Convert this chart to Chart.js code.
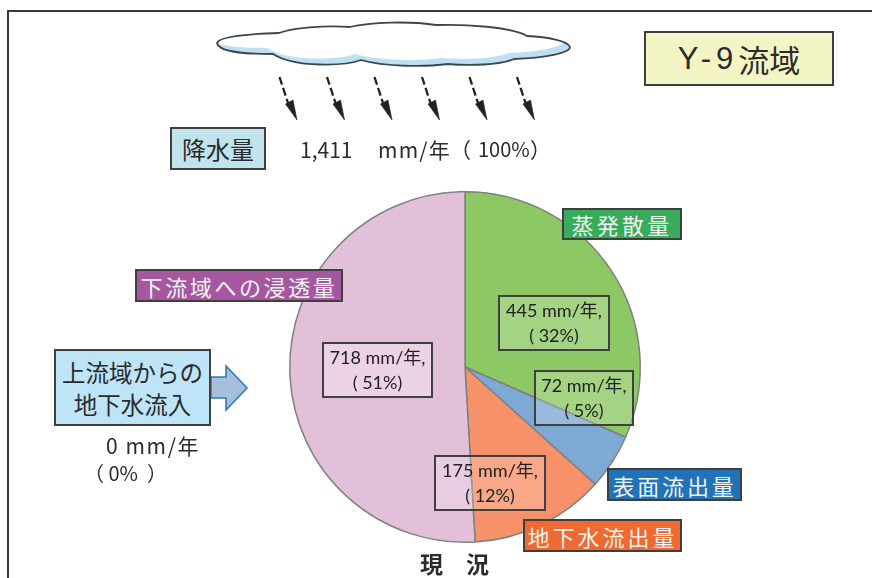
<!DOCTYPE html>
<html lang="ja">
<head>
<meta charset="utf-8">
<script src="https://cdn.jsdelivr.net/npm/chart.js@4"></script>
<style>
  html, body { margin: 0; padding: 0; background: #fff; }
  #stage { position: relative; width: 872px; height: 578px; overflow: hidden;
    font-family: "Noto Sans CJK JP", "Noto Sans", sans-serif; color: #2b2b2b; }
  #stage canvas, #stage svg { position: absolute; left: 0; top: 0; }
  #frame { position: absolute; left: 7px; top: 10px; width: 880px; height: 600px;
    border: 2px solid #3a3a3a; box-sizing: border-box; }
  .box { position: absolute; box-sizing: border-box; border: 2px solid #3f3f3f;
    display: flex; align-items: center; justify-content: center; text-align: center; white-space: nowrap; }
  .tag { color: #f4f4f4; font-size: 22px; letter-spacing: 3.2px; line-height: 1; }
  .val { font-family: Lato, "Noto Sans CJK JP", sans-serif; font-size: 18px; line-height: 25px; color: #222; }
  .txt { position: absolute; white-space: pre; line-height: 1; }
</style>
</head>
<body>
<div id="stage">
  <canvas id="pie" width="872" height="578"></canvas>
  <div id="frame"></div>
  <svg id="deco" width="872" height="578" viewBox="0 0 872 578"></svg>
  <div id="labels"></div>
</div>
<script>
// === DATA ===
const catNames = ['蒸発散量', '表面流出量', '地下水流出量', '下流域への浸透量'];
const valuesMm = [445, 72, 175, 718];
const percents = [32, 5, 12, 51];
const sliceColors = ['#8cc864', '#7fa9d5', '#f79169', '#e3c0da'];
const tagColors = ['#38ac5a', '#2272b8', '#ee6a30', '#a5589f'];

const rainMm = '1,411';
const rainPct = 100;
const inflowMm = 0;
const inflowPct = 0;

// === PIE ===
new Chart(document.getElementById('pie'), {
  type: 'pie',
  data: {
    labels: catNames,
    datasets: [{
      data: valuesMm,
      backgroundColor: sliceColors,
      borderColor: '#808080',
      borderWidth: 1.5
    }]
  },
  options: {
    responsive: false,
    animation: false,
    layout: { padding: { left: 289, right: 231, top: 191, bottom: 35 } },
    plugins: { legend: { display: false }, tooltip: { enabled: false } }
  }
});

// === CLOUD AND RAIN ===
const cloudPath = 'M217 43 C219 37 245 34 279 33 C292 28 325 25 350 27 C370 22 410 21 436 25 ' +
  'C465 24 512 27 527 36 C548 37 568 41 570 47 C570 53 545 58 514 59 C500 65 470 66 448 64 ' +
  'C425 67 385 67 361 60 C345 66 295 68 273 54 C250 54 219 53 217 43 Z';
let deco = `<defs><clipPath id="cloudClip"><path d="${cloudPath}"/></clipPath></defs>
  <path d="${cloudPath}" fill="#bfe0f3"/>
  <g clip-path="url(#cloudClip)"><path d="${cloudPath}" fill="#fff" transform="translate(-6 -6)"/></g>
  <path d="${cloudPath}" fill="none" stroke="#3c4650" stroke-width="1.8"/>`;
for (let i = 0; i < 6; i++) {
  const dx = 47.5 * i;
  deco += `<g transform="translate(${dx} 0)">
    <line x1="279.5" y1="77" x2="288" y2="103" stroke="#222" stroke-width="2.3" stroke-dasharray="8 3.5"/>
    <path d="M285.5 104 L297 120 L293 100 Z" fill="#222" stroke="#222" stroke-width="0.6"/></g>`;
}
// inflow arrow
deco += `<path d="M211 377 L226 377 L226 366 L247 388 L226 410 L226 398 L211 398 Z" fill="#a6bfdb" stroke="#2e7cb8" stroke-width="1.6"/>`;
document.getElementById('deco').innerHTML = deco;

// === LABELS ===
const labels = document.getElementById('labels');
function addBox(cls, x, y, w, h, bg, html, extra) {
  const d = document.createElement('div');
  d.className = 'box ' + cls;
  d.style.cssText = `left:${x}px;top:${y}px;width:${w}px;height:${h}px;background:${bg};${extra || ''}`;
  d.innerHTML = html;
  labels.appendChild(d);
}
function addText(x, y, size, text, extra) {
  const d = document.createElement('div');
  d.className = 'txt';
  d.style.cssText = `left:${x}px;top:${y}px;font-size:${size}px;${extra || ''}`;
  d.textContent = text;
  labels.appendChild(d);
}

addBox('', 644, 31, 190, 55, '#f4f5c5', '<span style="letter-spacing:5px;font-family:\'Liberation Sans\'">Y-9</span>流域', 'font-size:31px;');
addBox('', 170, 127, 96, 43, '#c0e4ec', '降水量', 'font-size:24px;');
addText(300, 139, 21, rainMm);
addText(378, 139, 21, 'mm/年', 'letter-spacing:1.2px;');
addText(450, 139, 21, '（');
addText(478, 139, 20, rainPct + '%');
addText(530, 139, 21, '）');

addBox('tag', 562, 208, 120, 32, tagColors[0], catNames[0]);
addBox('tag', 607, 468, 135, 33, tagColors[1], catNames[1], 'letter-spacing:2.8px;');
addBox('tag', 523, 519, 159, 33, tagColors[2], catNames[2], 'letter-spacing:3px;');
addBox('tag', 135, 269, 208, 33, tagColors[3], catNames[3], 'letter-spacing:2.6px;');

addBox('', 54, 349, 157, 77, '#bee4f8', '上流域からの<br>地下水流入', 'font-size:23.5px;line-height:32px;');
addText(106, 435, 21, inflowMm + ' mm/年', 'letter-spacing:1.6px;');
addText(84, 463, 20, '（ ' + inflowPct + '%  ）');

const valBoxes = [
  [498, 295, 112, 56, 'rgba(255,255,255,0.2)'],
  [534, 370, 100, 56, 'rgba(255,255,255,0.2)'],
  [434, 455, 112, 56, 'rgba(255,255,255,0.2)'],
  [322, 342, 111, 56, 'rgba(255,255,255,0.3)']
];
valuesMm.forEach((v, i) => {
  const b = valBoxes[i];
  addBox('val', b[0], b[1], b[2], b[3], b[4], `${v} mm/年,<br>( ${percents[i]}%)`);
});

addText(420, 552, 23, '現　況', 'font-weight:700;letter-spacing:0;');
</script>
</body>
</html>
